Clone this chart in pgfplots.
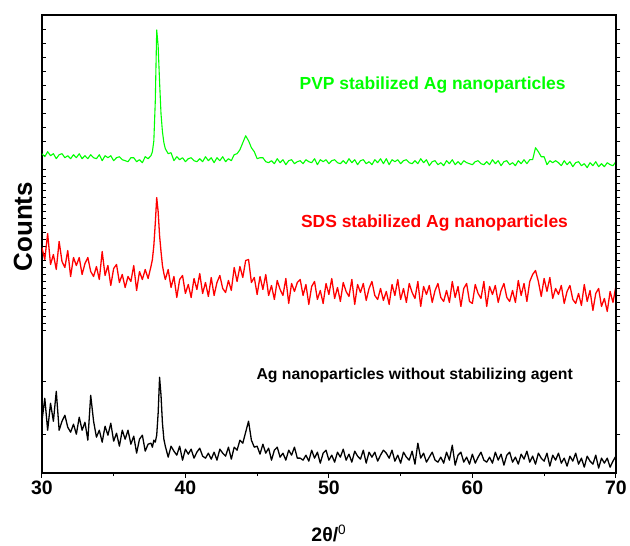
\documentclass[border=0pt]{standalone}
\usepackage{fontspec}
\setmainfont{Liberation Sans}
\usepackage{pgfplots}
\pgfplotsset{compat=1.18}
\usepackage{pgfplotstable}

\definecolor{xgreen}{RGB}{0,255,0}
\definecolor{xred}{RGB}{255,0,0}

% 2theta, PVP (green), SDS (red), none (black); counts in arbitrary offset units
\pgfplotstableread{
x g r k
30.0 320 226 52
30.2 317 214 75
30.4 322 240 43
30.6 318 209 70
30.8 320 219 52
31.0 315 204 82
31.2 319 232 43
31.4 320 212 52
31.6 316 206 58
31.8 318 223 46
32.0 315 197 41
32.2 319 216 49
32.4 316 208 39
32.6 320 216 56
32.8 315 199 43
33.0 318 210 51
33.2 315 216 33
33.4 319 202 78
33.6 316 197 52
33.8 315 207 36
34.0 319 194 43
34.2 313 222 31
34.4 318 198 47
34.6 316 208 38
34.8 318 188 50
35.0 313 205 32
35.2 316 209 40
35.4 317 191 27
35.6 314 199 43
35.8 313 186 34
36.0 312 197 43
36.2 316 192 29
36.4 316 208 37
36.6 312 183 20
36.8 314 202 34
37.0 311 194 38
37.2 317 204 22
37.4 315 195 29
37.6 318 207 30
37.7 322 214 26
37.8 333 228 33
37.9 372 250 31
38.0 444 276 38
38.1 428 262 60
38.2 392 238 96
38.3 360 222 78
38.4 342 208 50
38.5 331 200 34
38.6 325 194 27
38.8 320 204 16
39.0 321 186 27
39.2 313 197 22
39.4 317 176 18
39.6 314 194 27
39.8 316 198 13
40.0 312 180 24
40.2 315 189 19
40.4 316 176 24
40.6 313 195 15
40.8 312 184 21
41.0 315 200 25
41.2 312 180 17
41.4 317 191 15
41.6 313 177 20
41.8 316 196 14
42.0 311 178 21
42.2 316 191 13
42.4 313 198 24
42.6 317 185 20
42.8 312 181 17
43.0 315 193 26
43.2 313 183 14
43.4 319 206 26
43.6 320 192 23
43.8 324 207 33
44.0 331 196 30
44.2 338 213 41
44.4 333 214 52
44.6 326 191 33
44.8 322 196 26
45.0 315 179 27
45.2 316 197 19
45.4 316 184 29
45.6 312 199 20
45.8 311 178 25
46.0 313 188 13
46.2 310 174 23
46.4 315 193 26
46.6 311 184 16
46.8 314 178 20
47.0 309 195 13
47.2 313 170 23
47.4 314 190 18
47.6 310 182 26
47.8 312 191 15
48.0 313 194 15
48.2 310 178 13
48.4 314 189 18
48.6 312 169 12
48.8 311 187 23
49.0 315 192 15
49.2 309 174 21
49.4 314 183 10
49.6 312 170 20
49.8 314 190 23
50.0 310 179 13
50.2 313 195 18
50.4 314 175 11
50.6 311 186 21
50.8 310 172 16
51.0 313 191 24
51.2 310 182 13
51.4 315 177 19
51.6 311 194 11
51.8 314 169 22
52.0 309 189 17
52.2 313 181 14
52.4 314 190 23
52.6 310 173 10
52.8 312 185 21
53.0 309 192 16
53.2 314 178 21
53.4 311 174 12
53.6 315 185 18
53.8 310 173 23
54.0 315 182 20
54.2 309 169 15
54.4 314 189 23
54.6 312 178 12
54.8 314 194 18
55.0 310 174 10
55.2 313 185 21
55.4 314 171 16
55.6 311 190 13
55.8 310 181 22
56.0 313 175 9
56.2 310 192 30
56.4 315 167 15
56.6 311 187 20
56.8 314 179 11
57.0 308 188 16
57.2 312 171 21
57.4 313 183 13
57.6 309 190 11
57.8 311 176 16
58.0 308 172 10
58.2 313 183 21
58.4 310 171 13
58.6 314 192 28
58.8 309 176 8
59.0 312 187 18
59.2 309 167 21
59.4 313 185 11
59.6 311 190 16
59.8 310 172 9
60.0 309 170 19
60.2 312 189 10
60.4 313 180 16
60.6 310 175 21
60.8 309 192 13
61.0 312 167 11
61.2 309 187 16
61.4 314 179 10
61.6 310 188 21
61.8 313 171 13
62.0 308 183 19
62.2 312 190 8
62.4 313 176 18
62.6 309 172 21
62.8 311 183 11
63.0 308 171 16
63.2 313 193 9
63.4 310 178 19
63.6 314 190 14
63.8 310 172 22
64.0 314 192 11
64.2 314 199 17
64.4 326 203 9
64.6 322 192 20
64.8 317 177 15
65.0 317 195 12
65.2 309 182 20
65.4 313 196 7
65.6 311 175 18
65.8 313 185 13
66.0 311 179 20
66.2 308 188 10
66.4 313 170 15
66.6 309 182 7
66.8 312 188 17
67.0 307 174 12
67.2 311 170 20
67.4 312 180 9
67.6 308 168 15
67.8 310 189 6
68.0 306 172 17
68.2 311 183 12
68.4 308 163 9
68.6 312 180 18
68.8 307 185 5
69.0 310 167 15
69.2 307 175 10
69.4 311 162 15
69.6 309 182 6
69.8 308 171 12
70.0 312 187 17
}\xrd

\def\yticklist{39,92,143,150,157,164,171,178,185,192,199,206,213,220,227,234,241,248,255,262,269,276,283,290,297,304,318,332,346,360,374,388,402,416,430,444}

\begin{document}
\begin{tikzpicture}
\begin{axis}[
  name=main,
  scale only axis, width=575pt, height=459pt,
  xmin=30, xmax=70, ymin=0, ymax=459,
  xtick={30,40,...,70}, minor x tick num=1,
  xtick pos=bottom, xtick align=outside,
  ytick/.expand once=\yticklist, yticklabels={},
  ytick pos=left, ytick align=inside,
  major tick length=4.5pt, minor tick length=3pt,
  axis line style={line width=1.6pt},
  every tick/.style={black, line width=1pt},
  ticklabel style={font=\fontsize{19.5}{20}\selectfont\bfseries},
  /pgf/number format/assume math mode=true,
  xlabel={{\bfseries 2θ/}\textsuperscript{0}},
  xlabel style={font=\fontsize{19.5}{20}\selectfont, at={(axis description cs:0.5,0)}, anchor=base, yshift=-69pt},
  ylabel={Counts},
  ylabel style={font=\fontsize{26}{28}\selectfont\bfseries, at={(axis description cs:-0.033,0.538)}, anchor=center},
]
\addplot[xgreen, line width=1.1pt, line join=round] table[x=x, y=g] {\xrd};
\addplot[xred, line width=1.3pt, line join=round] table[x=x, y=r] {\xrd};
\addplot[black, line width=1.3pt, line join=round] table[x=x, y=k] {\xrd};
\node[anchor=base, text=xgreen, font=\fontsize{17.5}{18}\selectfont\bfseries] at (axis cs:57.23,384) {PVP stabilized Ag nanoparticles};
\node[anchor=base, text=xred, font=\fontsize{17.5}{18}\selectfont\bfseries] at (axis cs:57.36,246) {SDS stabilized Ag nanoparticles};
\node[anchor=base, text=black, font=\fontsize{15.8}{17}\selectfont\bfseries] at (axis cs:55.98,94) {Ag nanoparticles without stabilizing agent};
\end{axis}
\begin{axis}[
  scale only axis, width=575pt, height=459pt,
  xmin=30, xmax=70, ymin=0, ymax=459,
  hide x axis, axis y line*=right,
  ytick/.expand once=\yticklist, yticklabels={},
  ytick align=outside, major tick length=4.5pt,
  axis line style={line width=1.6pt},
  every tick/.style={black, line width=1pt},
]
\end{axis}
\path ([xshift=-42pt,yshift=-70pt]main.south west) rectangle ([xshift=13pt,yshift=15pt]main.north east);
\end{tikzpicture}
\end{document}
